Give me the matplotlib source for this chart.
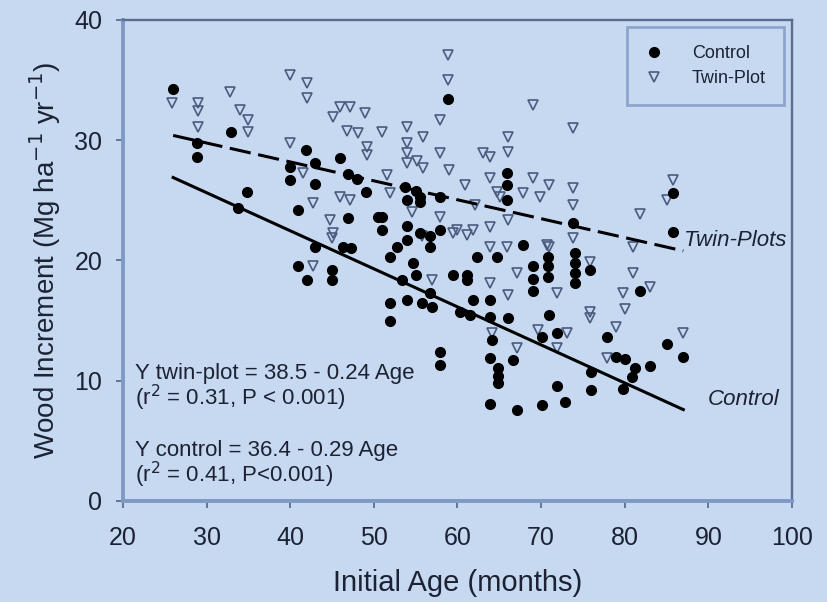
import matplotlib
matplotlib.use("Agg")
import matplotlib.pyplot as plt

plt.rcParams['font.family'] = ['Liberation Sans', 'DejaVu Sans']

# Control plots (filled circles)
control_age = [26, 28.9, 28.9, 32.9, 33.8, 34.8, 40, 40, 40.9, 40.9, 41.9, 42,
               43, 43, 43, 45, 45, 46, 46.3, 46.9, 46.9, 47.3, 48, 49, 50.5,
               51, 51, 51.9, 51.9, 51.9, 52.8, 53.4, 53.7, 54, 54, 54, 54,
               54.7, 55, 55, 55.5, 55.5, 55.5, 55.8, 56.7, 56.7, 56.7, 57,
               57.9, 57.9, 57.9, 57.9, 58.9, 59.5, 60.3, 61.1, 61.1, 61.5,
               61.9, 62.3, 63.9, 63.9, 64.1, 63.9, 64.7, 64.9, 64.9, 64.9,
               63.9, 65.9, 65.9, 65.9, 66, 66.6, 67.1, 67.8, 69, 69, 69,
               70.1, 70.1, 70.8, 70.8, 70.8, 71, 71.9, 71.9, 72.9, 73.8, 74,
               74, 74, 74, 75.9, 76, 76, 77.9, 78.9, 80, 81.2, 79.8, 80.9,
               81.8, 83, 85, 85.8, 85.8, 87]
control_inc = [34.3, 29.8, 28.6, 30.7, 24.4, 25.7, 27.8, 26.7, 24.2, 19.5, 29.2,
               18.4, 28.1, 26.4, 21.1, 19.2, 18.4, 28.5, 21.1, 27.2, 23.5, 21.0,
               26.8, 25.7, 23.6, 22.5, 23.6, 20.3, 16.5, 15.0, 21.1, 18.4, 26.1,
               25.0, 22.9, 21.7, 16.7, 19.8, 18.8, 25.8, 25.3, 24.9, 22.3, 16.5,
               22.0, 21.1, 17.3, 16.1, 25.3, 22.5, 12.4, 11.3, 33.4, 18.8, 15.7,
               18.8, 18.4, 15.5, 16.7, 20.3, 16.7, 15.3, 13.4, 11.9, 20.3, 11.1,
               10.4, 9.8, 8.1, 27.3, 26.3, 25.0, 15.2, 11.7, 7.6, 21.3, 19.5,
               18.5, 17.5, 13.6, 8.0, 20.3, 19.5, 18.6, 15.5, 14.0, 9.6, 8.2,
               23.1, 20.6, 19.8, 19.0, 18.1, 19.2, 10.7, 9.2, 13.6, 12.0, 11.8,
               11.1, 9.3, 10.3, 17.5, 11.2, 13.05, 25.6, 22.4, 12.0]

# Twin plots (open triangles)
twin_age = [25.9, 29, 29, 29, 32.8, 34, 35, 35, 40, 40, 41.5, 42, 42, 42.7,
            42.7, 44.8, 45.1, 45.1, 45, 46, 46, 46.8, 47.2, 47.2, 48.1, 48.9,
            49.2, 49.2, 51, 51.6, 51.9, 54, 54, 54, 54, 54.6, 55.2, 55.9,
            55.9, 55.8, 57, 57.9, 57.9, 57.9, 58.9, 58.9, 59, 59.5, 60, 60.9,
            61.1, 61.9, 62.1, 63, 63.9, 63.9, 63.9, 63.9, 63.9, 64.1, 64.7,
            65.1, 65.9, 66, 66, 66, 66, 67.1, 67.1, 67.8, 69, 69, 69.6, 69.9,
            70.7, 71, 71, 71.9, 71.9, 73.8, 73.8, 73.8, 73.8, 73.1, 75.9,
            75.9, 75.9, 77.9, 78.9, 79.8, 80, 81, 81, 81.8, 83, 85, 85.8, 87]
twin_inc = [33.1, 33.1, 32.4, 31.1, 34.0, 32.5, 31.7, 30.7, 35.4, 29.8, 27.3,
            34.8, 33.5, 24.8, 19.5, 23.4, 31.9, 22.3, 21.9, 32.8, 25.3, 30.8,
            32.8, 25.0, 30.6, 32.3, 29.4, 28.8, 30.7, 27.1, 25.6, 31.1, 29.8,
            28.9, 28.1, 24.0, 28.3, 30.3, 27.7, 22.0, 18.4, 31.7, 28.9, 23.6,
            37.1, 35.0, 27.5, 22.3, 22.5, 26.3, 22.1, 22.5, 24.6, 28.9, 28.6,
            26.9, 22.8, 21.1, 18.1, 14.0, 25.7, 25.3, 21.1, 30.3, 29.0, 23.4,
            17.1, 19.0, 12.7, 25.6, 32.9, 26.9, 14.2, 25.3, 21.3, 26.3, 21.1,
            17.3, 12.7, 31.0, 26.0, 24.6, 21.9, 14.0, 19.9, 15.7, 15.2, 11.9,
            14.5, 17.3, 16.0, 19.0, 21.1, 23.9, 17.8, 25.0, 26.7, 14.0]

# regression lines as drawn (end points)
twin_fit_age = [26, 87]
twin_fit_inc = [30.4, 20.8]
control_fit_age = [26, 87]
control_fit_inc = [26.9, 7.6]

bg = '#c7d9f1'
dark_edge = '#5a6e8f'
light_edge = '#7d99c4'
txt = '#1c2233'

fig = plt.figure(figsize=(8.27, 6.02), dpi=100, facecolor=bg)
ax = fig.add_axes([0.1487, 0.1678, 0.809, 0.799])
ax.set_facecolor(bg)

ax.plot(twin_age, twin_inc, linestyle='none', marker='v', ms=7.5,
        mfc='none', mec='#4a5c7e', mew=1.2, label='Twin-Plot', zorder=2)
ax.plot(control_age, control_inc, linestyle='none', marker='o', ms=7,
        mfc='black', mec='black', label='Control', zorder=3)

ax.plot(twin_fit_age, twin_fit_inc, color='black', lw=2.2,
        dashes=(7, 2.5), zorder=4)
ax.plot(control_fit_age, control_fit_inc, color='black', lw=2.2, zorder=4)

ax.set_xlim(20, 100)
ax.set_ylim(0, 40)
ax.set_xticks(range(20, 101, 10))
ax.set_yticks(range(0, 41, 10))

for s in ['left', 'bottom']:
    ax.spines[s].set_color(light_edge)
    ax.spines[s].set_linewidth(2.8)
for s in ['top', 'right']:
    ax.spines[s].set_color(dark_edge)
    ax.spines[s].set_linewidth(1.7)

ax.tick_params(axis='both', colors=dark_edge, labelcolor=txt, labelsize=18,
               length=5, width=1.3)
ax.tick_params(axis='x', pad=13)
ax.tick_params(axis='y', pad=10)

ax.set_xlabel('Initial Age (months)', fontsize=21, color=txt, labelpad=14)
ax.set_ylabel('Wood Increment (Mg ha$^{-1}$ yr$^{-1}$)', fontsize=20,
              color=txt, labelpad=8)

ax.text(21.4, 10.6, 'Y twin-plot = 38.5 - 0.24 Age', fontsize=16,
        color=txt, va='center')
ax.text(21.4, 8.6, '(r$^2$ = 0.31, P < 0.001)', fontsize=16,
        color=txt, va='center')
ax.text(21.4, 4.2, 'Y control = 36.4 - 0.29 Age', fontsize=16,
        color=txt, va='center')
ax.text(21.4, 2.2, '(r$^2$ = 0.41, P<0.001)', fontsize=16,
        color=txt, va='center')

ax.text(87.1, 21.7, 'Twin-Plots', fontsize=16, style='italic',
        color=txt, va='center')
ax.text(89.9, 8.4, 'Control', fontsize=16, style='italic',
        color=txt, va='center')

handles, labels = ax.get_legend_handles_labels()
leg = ax.legend(handles[::-1], labels[::-1], loc='upper right',
                bbox_to_anchor=(0.988, 0.985), fontsize=13, frameon=True,
                fancybox=False, handlelength=1.0, handletextpad=1.6,
                borderpad=1.0, borderaxespad=0, labelspacing=0.45)
leg.get_frame().set_facecolor(bg)
leg.get_frame().set_edgecolor(light_edge)
leg.get_frame().set_linewidth(2)
for t in leg.get_texts():
    t.set_color(txt)

fig.savefig('out.png', dpi=100, facecolor=bg)
